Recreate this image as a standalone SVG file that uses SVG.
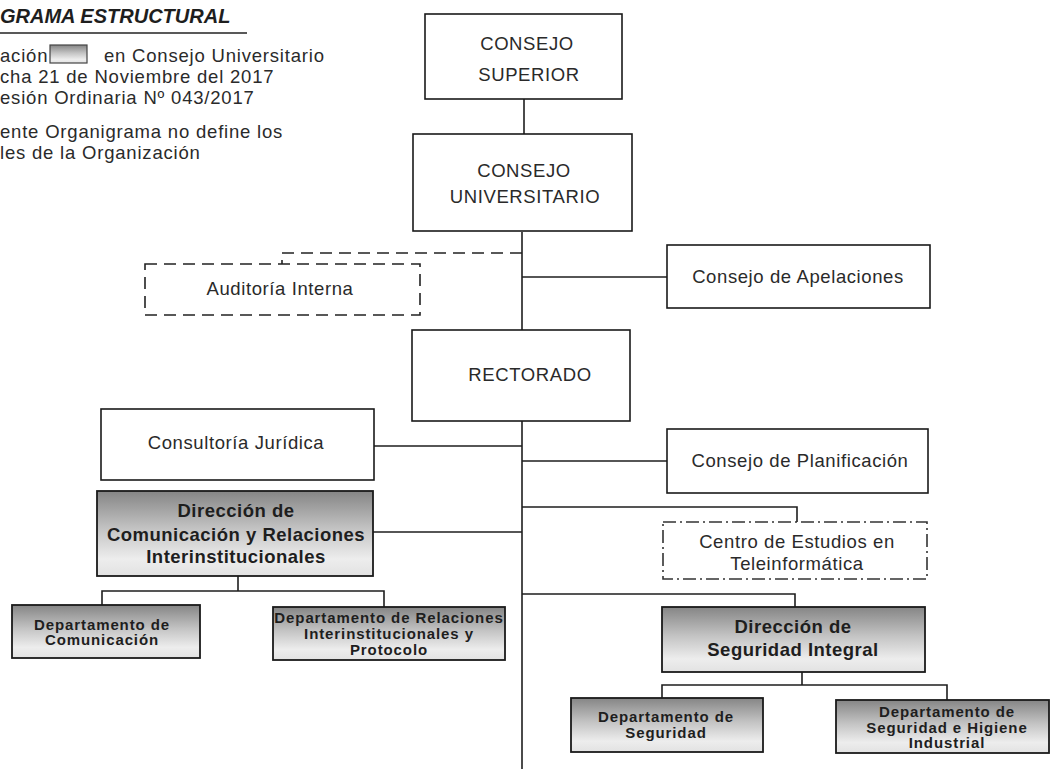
<svg xmlns="http://www.w3.org/2000/svg" width="1050" height="769" viewBox="0 0 1050 769">
<defs>
<linearGradient id="g" x1="0" y1="0" x2="0" y2="1">
<stop offset="0" stop-color="#858585"/>
<stop offset="0.45" stop-color="#c4c4c4"/>
<stop offset="0.8" stop-color="#ededed"/>
<stop offset="1" stop-color="#e2e2e2"/>
</linearGradient>
<style>
.bx{fill:#fff;stroke:#1a1a1a;stroke-width:1.6}
.gx{fill:url(#g);stroke:#1a1a1a;stroke-width:1.8}
.dash{fill:#fff;stroke:#222;stroke-width:1.6;stroke-dasharray:12 7}
.dd{fill:#fff;stroke:#333;stroke-width:1.6;stroke-dasharray:13 4 2 4}
.t{font-family:"Liberation Sans",Arial,sans-serif;font-size:18.5px;letter-spacing:0.6px;fill:#2a2a2a;text-anchor:middle}
.b{font-family:"Liberation Sans",Arial,sans-serif;font-size:18.5px;font-weight:bold;letter-spacing:0.5px;fill:#1e1e1e;text-anchor:middle}
.s{font-family:"Liberation Sans",Arial,sans-serif;font-size:15px;font-weight:bold;letter-spacing:0.9px;fill:#1e1e1e;text-anchor:middle}
.h{font-family:"Liberation Sans",Arial,sans-serif;font-size:18.5px;letter-spacing:0.8px;fill:#2a2a2a}
.ln{fill:none;stroke:#1e1e1e;stroke-width:1.6}
.lnd{fill:none;stroke:#222;stroke-width:1.6;stroke-dasharray:12 7}
</style>
</defs>
<rect width="1050" height="769" fill="#fff"/>

<g id="header">
<text x="0" y="23" font-family="Liberation Sans, Arial, sans-serif" font-size="20" font-weight="bold" font-style="italic" fill="#1e1e1e">GRAMA ESTRUCTURAL</text>
<line x1="0" y1="33" x2="247" y2="33" stroke="#222" stroke-width="1.5"/>
<text class="h" x="0" y="62">ación</text>
<rect x="50" y="45" width="37" height="18" fill="url(#g)" stroke="#444" stroke-width="1.2"/>
<text class="h" x="104" y="62">en Consejo Universitario</text>
<text class="h" x="0" y="83">cha 21 de Noviembre del 2017</text>
<text class="h" x="0" y="104">esión Ordinaria Nº 043/2017</text>
<text class="h" x="0" y="138">ente Organigrama no define los</text>
<text class="h" x="0" y="159">les de la Organización</text>
</g>

<g id="connectors">
<path class="ln" d="M524 99V134"/>
<path class="ln" d="M522 232V330"/>
<path class="lnd" d="M522 253H282V264"/>
<path class="ln" d="M522 277H667"/>
<path class="ln" d="M522 421V769"/>
<path class="ln" d="M374 446H522"/>
<path class="ln" d="M522 461H667"/>
<path class="ln" d="M373 532H522"/>
<path class="ln" d="M522 507H797V522"/>
<path class="ln" d="M522 594H795V607"/>
<path class="ln" d="M238 576V591M102 605V591H384V607"/>
<path class="ln" d="M802 672V685M662 698V685H947V700"/>
</g>

<g id="consejo-superior">
<rect class="bx" x="425" y="14" width="197" height="85"/>
<text class="t" x="527" y="50">CONSEJO</text>
<text class="t" x="529" y="81">SUPERIOR</text>
</g>

<g id="consejo-universitario">
<rect class="bx" x="413" y="134" width="219" height="97"/>
<text class="t" x="524" y="177">CONSEJO</text>
<text class="t" x="525" y="203">UNIVERSITARIO</text>
</g>

<g id="auditoria-interna">
<rect class="dash" x="145" y="264" width="275" height="51"/>
<text class="t" x="280" y="295">Auditoría Interna</text>
</g>

<g id="consejo-apelaciones">
<rect class="bx" x="667" y="245" width="263" height="63"/>
<text class="t" x="798" y="283">Consejo de Apelaciones</text>
</g>

<g id="rectorado">
<rect class="bx" x="412" y="330" width="218" height="91"/>
<text class="t" x="530" y="381">RECTORADO</text>
</g>

<g id="consultoria-juridica">
<rect class="bx" x="101" y="409" width="273" height="71"/>
<text class="t" x="236" y="449">Consultoría Jurídica</text>
</g>

<g id="consejo-planificacion">
<rect class="bx" x="667" y="429" width="261" height="64"/>
<text class="t" x="800" y="467">Consejo de Planificación</text>
</g>

<g id="direccion-comunicacion">
<rect class="gx" x="97" y="491" width="276" height="85"/>
<text class="b" x="236" y="517">Dirección de</text>
<text class="b" x="236" y="541">Comunicación y Relaciones</text>
<text class="b" x="236" y="563">Interinstitucionales</text>
</g>

<g id="centro-teleinformatica">
<rect class="dd" x="663" y="522" width="264" height="57"/>
<text class="t" x="797" y="548">Centro de Estudios en</text>
<text class="t" x="797" y="570">Teleinformática</text>
</g>

<g id="direccion-seguridad">
<rect class="gx" x="662" y="607" width="263" height="65"/>
<text class="b" x="793" y="633">Dirección de</text>
<text class="b" x="793" y="656">Seguridad Integral</text>
</g>

<g id="depto-comunicacion">
<rect class="gx" x="12" y="605" width="188" height="53"/>
<text class="s" x="102" y="630">Departamento de</text>
<text class="s" x="102" y="645">Comunicación</text>
</g>

<g id="depto-relaciones">
<rect class="gx" x="273" y="607" width="232" height="53"/>
<text class="s" x="389" y="623">Departamento de Relaciones</text>
<text class="s" x="389" y="639">Interinstitucionales y</text>
<text class="s" x="389" y="655">Protocolo</text>
</g>

<g id="depto-seguridad">
<rect class="gx" x="571" y="698" width="192" height="54"/>
<text class="s" x="666" y="722">Departamento de</text>
<text class="s" x="666" y="738">Seguridad</text>
</g>

<g id="depto-higiene">
<rect class="gx" x="836" y="700" width="213" height="53"/>
<text class="s" x="947" y="717">Departamento de</text>
<text class="s" x="947" y="733">Seguridad e Higiene</text>
<text class="s" x="947" y="748">Industrial</text>
</g>
</svg>
